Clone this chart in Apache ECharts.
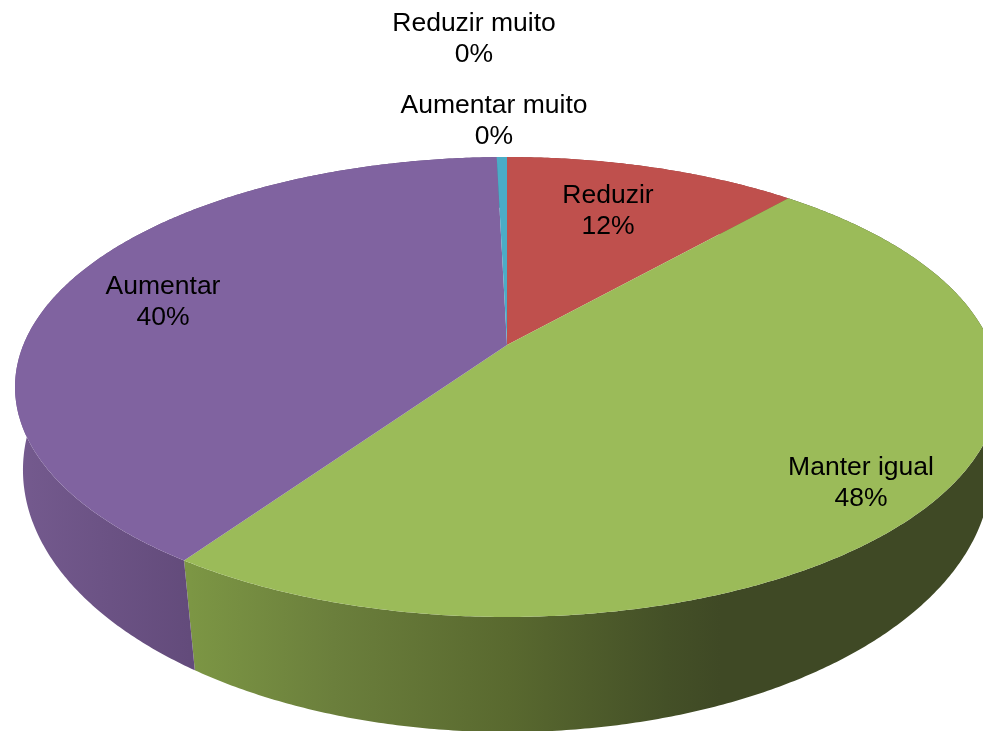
<!DOCTYPE html>
<html>
<head>
<meta charset="utf-8">
<style>html,body{margin:0;padding:0;background:#fff}#c{width:983px;height:731px}</style>
<script src="https://cdn.jsdelivr.net/npm/echarts@6/dist/echarts.min.js"></script>
</head>
<body>
<div id="c"></div>
<script>
const categories = ['Reduzir muito', 'Reduzir', 'Manter igual', 'Aumentar', 'Aumentar muito'];
const shares = [0, 11.5, 48.1, 40, 0.4];
const topColors = ['#4F81BD', '#BF504D', '#9BBB59', '#8063A0', '#4BACC6'];

// layout of the tilted disc
const TOP_PLANE = { cx: 507, cy: 345, a: 483.7, b: 222.3, k: 0.1826 };
const BOTTOM_PLANE = { cx: 507, cy: 428, a: 477.8, b: 255.4, k: 0.16 };
const labelCentres = [[474, 39.5], [608, 211], [861, 483], [163, 302], [494, 121]];

const green = { type: 'linear', global: true, x: 190, y: 0, x2: 720, y2: 0, colorStops: [
  { offset: 0, color: '#7C9644' }, { offset: 0.27, color: '#6B7F3C' },
  { offset: 0.6, color: '#59692F' }, { offset: 0.9, color: '#445027' }, { offset: 1, color: '#3F4925' }
] };
const purple = { type: 'linear', global: true, x: 20, y: 0, x2: 190, y2: 0, colorStops: [
  { offset: 0, color: '#745A8E' }, { offset: 1, color: '#634B7B' }
] };
const wallFills = ['#3B5E8C', '#8E3A38', green, purple, '#358094'];

const total = shares.reduce((s, v) => s + v, 0);
const starts = shares.map((_, i) => shares.slice(0, i).reduce((s, v) => s + v, 0));

function project(plane, theta) {
  const u = Math.sin(theta), v = -Math.cos(theta), d = 1 - plane.k * v;
  return [plane.cx + plane.a * u / d, plane.cy + plane.b * v / d];
}
function arc(plane, i) {
  const t0 = starts[i] / total * 2 * Math.PI, t1 = (starts[i] + shares[i]) / total * 2 * Math.PI;
  const n = Math.max(2, Math.ceil((t1 - t0) * 120));
  const pts = [];
  for (let k = 0; k <= n; k++) pts.push(project(plane, t0 + (t1 - t0) * k / n));
  return pts;
}
function topItem(params) {
  const i = params.dataIndex;
  return { type: 'polygon', silent: true,
    shape: { points: [[TOP_PLANE.cx, TOP_PLANE.cy]].concat(arc(TOP_PLANE, i)) },
    style: { fill: topColors[i] } };
}
function wallItem(params) {
  const i = params.dataIndex;
  return { type: 'polygon', silent: true,
    shape: { points: arc(TOP_PLANE, i).concat(arc(BOTTOM_PLANE, i).reverse()) },
    style: { fill: wallFills[i] } };
}
function labelItem(params) {
  const i = params.dataIndex;
  return { type: 'text', silent: true,
    style: { text: categories[i] + '\n' + Math.round(shares[i] / total * 100) + '%',
      x: labelCentres[i][0], y: labelCentres[i][1], align: 'center', verticalAlign: 'middle',
      font: '26.5px "Liberation Sans", Arial, sans-serif', lineHeight: 31, fill: '#000' } };
}
const rows = shares.map((v, i) => ({ name: categories[i], value: [i, v] }));
const chart = echarts.init(document.getElementById('c'), null, { renderer: 'canvas', width: 983, height: 731 });
chart.setOption({
  animation: false,
  backgroundColor: '#fff',
  tooltip: { show: false },
  series: [
    { type: 'custom', coordinateSystem: 'none', renderItem: wallItem, data: rows, z: 1 },
    { type: 'custom', coordinateSystem: 'none', renderItem: topItem, data: rows, z: 2 },
    { type: 'custom', coordinateSystem: 'none', renderItem: labelItem, data: rows, z: 3 }
  ]
});
</script>
</body>
</html>
